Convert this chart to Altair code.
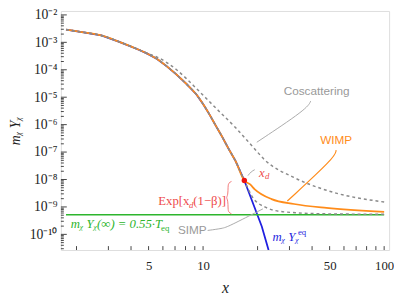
import altair as alt
import pandas as pd

# ---------------- data ----------------
X_DOMAIN = [1.64, 106.5]
Y_DOMAIN = [2.686e-11, 1.39e-2]

# shared early part (equilibrium tracking)
X_MAIN = [1.75, 2.19, 2.74, 3.39, 4.35, 4.92, 5.57, 6.31, 7.14, 8.09, 9.17, 10.0, 10.8, 11.75, 12.8, 13.82, 15.1, 16.9]
Y_MAIN = [2.91e-3, 2.31e-3, 1.78e-3, 1.09e-3, 5.62e-4, 3.88e-4, 2.47e-4, 1.33e-4, 6.63e-5, 3.04e-5,
          1.28e-5, 5.62e-6, 2.47e-6, 9.2e-7, 3.44e-7, 1.33e-7, 4.78e-8, 9.2e-9]

# equilibrium m Y_eq (blue)
X_EQ = X_MAIN + [21.1, 23.0]
Y_EQ = Y_MAIN + [1.93e-10, 2.68e-11]

# WIMP (orange)
X_WIMP = X_MAIN + [18.2, 19.3, 23.9, 31.8, 48.0, 100.0]
Y_WIMP = Y_MAIN + [6.6e-9, 4.4e-9, 1.93e-9, 1.28e-9, 9.2e-10, 6.6e-10]

# SIMP (gray dashed, lower)
X_SIMP = X_MAIN + [18.6, 21.9, 28.1, 48.0, 100.0]
Y_SIMP = Y_MAIN + [2.47e-9, 1.0e-9, 6.6e-10, 5.6e-10, 5.4e-10]

# Coscattering (gray dashed, upper)
X_COS = [1.75, 2.19, 2.74, 3.39, 4.35, 4.92, 5.57, 7.14, 8.09, 9.17, 11.75, 15.1, 18.9, 21.9, 31.8, 48.0, 100.0]
Y_COS = [2.91e-3, 2.31e-3, 1.78e-3, 1.09e-3, 5.62e-4, 3.98e-4, 2.91e-4, 1.0e-4, 4.77e-5, 2.1e-5,
         4.05e-6, 7.8e-7, 1.51e-7, 5.18e-8, 1.18e-8, 4.05e-9, 1.51e-9]

# asymptotic relic level (green)
X_RELIC = [1.75, 100.0]
Y_RELIC = [5.2e-10, 5.2e-10]

# decoupling point
X_DOT = [16.9]
Y_DOT = [9.2e-9]

# annotation leader lines
X_PTR_COS = [39.3, 37.4, 19.8]
Y_PTR_COS = [7.2e-6, 3.7e-6, 2.28e-7]
X_PTR_WIMP = [54.3, 53.7, 29.2]
Y_PTR_WIMP = [1.18e-7, 6.6e-8, 1.64e-9]
X_PTR_SIMP = [10.6, 12.8, 13.8, 21.4]
Y_PTR_SIMP = [1.39e-10, 1.64e-10, 1.93e-10, 8.5e-10]
X_PTR_XD = [17.7, 18.4, 19.3]
Y_PTR_XD = [1.39e-8, 1.93e-8, 2.28e-8]
X_BRACE = [14.35, 13.82, 13.73, 13.73, 13.40, 13.73, 13.73, 13.82, 14.35]
Y_BRACE = [8.49e-9, 7.5e-9, 5.62e-9, 2.68e-9, 2.18e-9, 1.78e-9, 8.49e-10, 6.37e-10, 5.62e-10]

# tick values / labels
Y_MAJOR = [1e-10, 1e-9, 1e-8, 1e-7, 1e-6, 1e-5, 1e-4, 1e-3, 1e-2]
Y_EXP = [-10, -9, -8, -7, -6, -5, -4, -3, -2]
X_LABELS = [5, 10, 50, 100]
X_TICKS = [2, 3, 4, 5, 6, 7, 8, 9, 10, 20, 30, 40, 50, 60, 70, 80, 90, 100]

# ---------------- helpers ----------------
SUP = {"-": "\u207b", "0": "\u2070", "1": "\u00b9", "2": "\u00b2", "3": "\u00b3",
       "4": "\u2074", "5": "\u2075", "6": "\u2076", "7": "\u2077", "8": "\u2078", "9": "\u2079"}


def sup(s):
    return "".join(SUP[c] for c in s)


y_labels = ["10" + sup(str(e)) for e in Y_EXP]
expr = "''"
for e, lab in zip(Y_EXP, y_labels):
    expr = f"(abs(log(datum.value)/LN10 - ({e})) < 0.1) ? '{lab}' : " + expr
y_label_expr = expr

y_minor = []
for e in Y_EXP + [-11]:
    for k in range(2, 10):
        t = k * 10.0 ** e
        if Y_DOMAIN[0] < t < Y_DOMAIN[1]:
            y_minor.append(t)

SERIF = "Liberation Serif"
SANS = "Liberation Sans"


def df(xs, ys):
    return pd.DataFrame({"x": xs, "y": ys, "o": list(range(len(xs)))})


xs = alt.Scale(type="log", domain=X_DOMAIN, nice=False)
ys = alt.Scale(type="log", domain=Y_DOMAIN, nice=False)

xaxis = alt.Axis(values=X_LABELS, format="~g", title="x", titleFont=SERIF, titleFontStyle="italic",
                 titleFontWeight="normal", titleFontSize=16, titleColor="#222",
                 labelFont=SERIF, labelFontSize=13, labelColor="#222", ticks=False, domain=False,
                 grid=False, labelPadding=10, titlePadding=7, labelOverlap=False, labelFlush=False)
yaxis = alt.Axis(values=Y_MAJOR, labelExpr=y_label_expr, title="m\u1d6a Y\u1d6a", titleFont=SERIF,
                 titleFontStyle="italic", titleFontWeight="normal", titleFontSize=14, titleColor="#222",
                 labelFont=SERIF, labelFontSize=14, labelColor="#222", ticks=False, domain=False,
                 grid=False, labelPadding=4, titlePadding=7, labelOverlap=False, labelFlush=False)


def X(f="x"):
    return alt.X(f + ":Q", scale=xs, axis=xaxis)


def Y(f="y"):
    return alt.Y(f + ":Q", scale=ys, axis=yaxis)


def curve(xv, yv, color, width=1.6, dash=None, interp="monotone"):
    kw = dict(color=color, strokeWidth=width, clip=True, interpolate=interp)
    if dash:
        kw["strokeDash"] = dash
    return alt.Chart(df(xv, yv)).mark_line(**kw).encode(x=X(), y=Y(), order=alt.Order("o:Q"))


def label(xv, yv, text, color, size=12, font=SANS, style="normal", align="center", baseline="middle"):
    return alt.Chart(df([xv], [yv])).mark_text(
        text=text, color=color, fontSize=size, font=font, fontStyle=style, align=align, baseline=baseline
    ).encode(x=X(), y=Y())


ORANGE = "#ff8c1a"
GRAY = "#8a8a8a"
BLUE = "#1f1fe0"
GREEN = "#2db52d"
RED = "#ee4a4a"

layers = [
    curve(X_EQ, Y_EQ, BLUE, 1.8, interp="linear"),
    curve(X_WIMP, Y_WIMP, ORANGE, 1.8),
    curve(X_RELIC, Y_RELIC, GREEN, 1.6, interp="linear"),
    curve(X_COS, Y_COS, GRAY, 1.5, dash=[3, 3]),
    curve(X_SIMP, Y_SIMP, GRAY, 1.5, dash=[3, 3]),
    curve(X_PTR_COS, Y_PTR_COS, "#aaaaaa", 1, interp="basis"),
    curve(X_PTR_WIMP, Y_PTR_WIMP, ORANGE, 1.2, interp="basis"),
    curve(X_PTR_SIMP, Y_PTR_SIMP, "#aaaaaa", 1, interp="basis"),
    curve(X_PTR_XD, Y_PTR_XD, "#aaaaaa", 1, interp="basis"),
    curve(X_BRACE, Y_BRACE, "#f27a7a", 1, interp="basis"),
    alt.Chart(df(X_DOT, Y_DOT)).mark_circle(size=30, color="#ee1111", opacity=1).encode(x=X(), y=Y()),
    label(42.4, 1.64e-5, "Coscattering", "#999999", 12),
    label(54.3, 2.68e-7, "WIMP", ORANGE, 12),
    label(8.72, 1.39e-10, "SIMP", "#999999", 12),
    label(21.1, 1.78e-8, "x", RED, 13, SERIF, "italic"),
    label(22.6, 1.39e-8, "d", RED, 9, SERIF, "italic"),
    label(8.40, 1.64e-9, "Exp[x", RED, 13, SERIF, "normal", "right"),
    label(8.61, 1.18e-9, "d", RED, 9, SERIF, "italic"),
    label(8.83, 1.64e-9, "(1\u2212\u03b2)]", RED, 13, SERIF, "normal", "left"),
    label(1.86, 2.28e-10, "m\u1d6a Y\u1d6a(\u221e) = 0.55\u00b7T", GREEN, 13, SERIF, "italic", "left"),
    label(5.86, 1.64e-10, "eq", GREEN, 9, SERIF, "normal", "left"),
    label(24.2, 7.8e-11, "m\u1d6a Y\u1d6a", BLUE, 13, SERIF, "italic", "left"),
    label(33.4, 1.18e-10, "eq", BLUE, 9, SERIF, "normal", "left"),
]

# inward ticks
tick_color = "#444444"
layers += [
    alt.Chart(pd.DataFrame({"y": Y_MAJOR})).mark_rule(color=tick_color, strokeWidth=1).encode(
        y=Y(), x=alt.value(0), x2=alt.value(6)),
    alt.Chart(pd.DataFrame({"y": y_minor})).mark_rule(color=tick_color, strokeWidth=1).encode(
        y=Y(), x=alt.value(0), x2=alt.value(3)),
    alt.Chart(pd.DataFrame({"x": X_TICKS})).mark_rule(color=tick_color, strokeWidth=1).encode(
        x=X(), y=alt.value(244), y2=alt.value(240)),
]

chart = alt.layer(*layers).properties(
    width=335, height=244,
    autosize=alt.AutoSizeParams(type="none"),
    padding={"left": 54, "top": 0, "right": 5, "bottom": 50},
).configure_view(stroke="#555555", strokeWidth=1.2).configure(background="white")

chart.save("out.html", embed_options={"renderer": "svg", "actions": False})
